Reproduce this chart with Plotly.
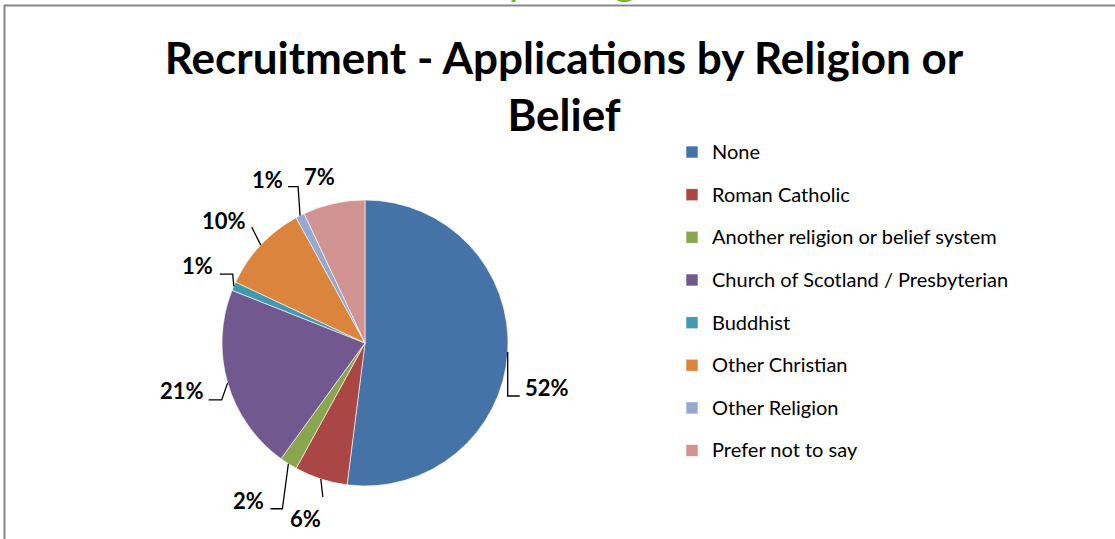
import math
import plotly.graph_objects as go

# Applications by religion or belief (per cent of all applications)
categories = [
    "None",
    "Roman Catholic",
    "Another religion or belief system",
    "Church of Scotland / Presbyterian",
    "Buddhist",
    "Other Christian",
    "Other Religion",
    "Prefer not to say",
]
shares = [52, 6, 2, 21, 1, 10, 1, 7]
colors = ["#4572A7", "#AA4643", "#89A54E", "#71588F",
          "#4198AF", "#DB843D", "#93A9CF", "#D19392"]

W, H = 1115, 539
CX, CY, R = 365, 343, 143  # pie centre and radius (px)

# label placement relative to each slice's outer mid-point (px)
label_offsets = [(39, 36), (-15, 39), (-40, 37), (-46, 8),
                 (-36, -21), (-37, -25), (-33, -36), (-14, -27)]
leader_elbows = [(0, 44), (2, 18), (-6, 45), (-6, 17),
                 (-1, -12), (-9, -18), (-2, -29), None]
leader_ends = [(12, 44), (2, 18), (-18, 45), (-19, 17),
               (-14, -12), (-9, -18), (-12, -29), None]


def px(x):
    return x / W


def py(y):
    return 1 - y / H


FONT = "Lato"

legend_labels = [
    f'<span style="font-size:20px;baseline-shift:4.7px">{c}</span>' for c in categories
]

fig = go.Figure(
    go.Pie(
        labels=legend_labels,
        values=shares,
        sort=False,
        direction="clockwise",
        rotation=0,
        marker=dict(colors=colors, line=dict(color="white", width=0.6)),
        textinfo="none",
        hoverinfo="skip",
        domain=dict(x=[px(CX - R), px(CX + R)], y=[py(CY + R), py(CY - R)]),
    )
)

shapes = []
annotations = []
total = sum(shares)
cum = 0.0
for i, v in enumerate(shares):
    theta = 2 * math.pi * (cum + v / 2) / total
    cum += v
    ex = CX + R * math.sin(theta)
    ey = CY - R * math.cos(theta)
    lx, ly = label_offsets[i]
    annotations.append(dict(
        x=px(ex + lx), y=py(ey + ly), xref="paper", yref="paper",
        text=f"{v}%", showarrow=False, xanchor="center", yanchor="middle",
        font=dict(family=FONT, size=22, color="black", weight="bold"),
    ))
    if leader_elbows[i] is not None:
        bx, by = leader_elbows[i]
        tx, ty = leader_ends[i]
        path = (f"M {px(ex)},{py(ey)} L {px(ex + bx)},{py(ey + by)} "
                f"L {px(ex + tx)},{py(ey + ty)}")
        shapes.append(dict(type="path", path=path, xref="paper", yref="paper",
                           line=dict(color="black", width=1.3)))

# chart frame
shapes.append(dict(type="rect", xref="paper", yref="paper",
                   x0=px(4.5), x1=1.02, y0=-0.02, y1=py(5.5),
                   line=dict(color="#878787", width=2), layer="above"))

# page heading sitting above the chart frame
annotations.append(dict(
    x=px(590), y=py(5.5), xref="paper", yref="paper", text="by Religion",
    showarrow=False, xanchor="center", yanchor="bottom",
    font=dict(family=FONT, size=46, color="#76B82A"),
))

fig.update_layout(
    width=W, height=H,
    margin=dict(l=0, r=0, t=0, b=0),
    paper_bgcolor="white", plot_bgcolor="white",
    title=dict(
        text="Recruitment - Applications by Religion or<br>Belief",
        x=px(564), xanchor="center", y=py(74), yanchor="top",
        xref="paper", yref="container",
        font=dict(family=FONT, size=44, color="black", weight="bold"),
    ),
    legend=dict(
        x=px(672), xanchor="left", y=py(125.7), yanchor="top",
        font=dict(family=FONT, size=30.5, color="black"),
        bgcolor="rgba(0,0,0,0)", borderwidth=0,
    ),
    shapes=shapes,
    annotations=annotations,
)

fig.write_html("out.html")
